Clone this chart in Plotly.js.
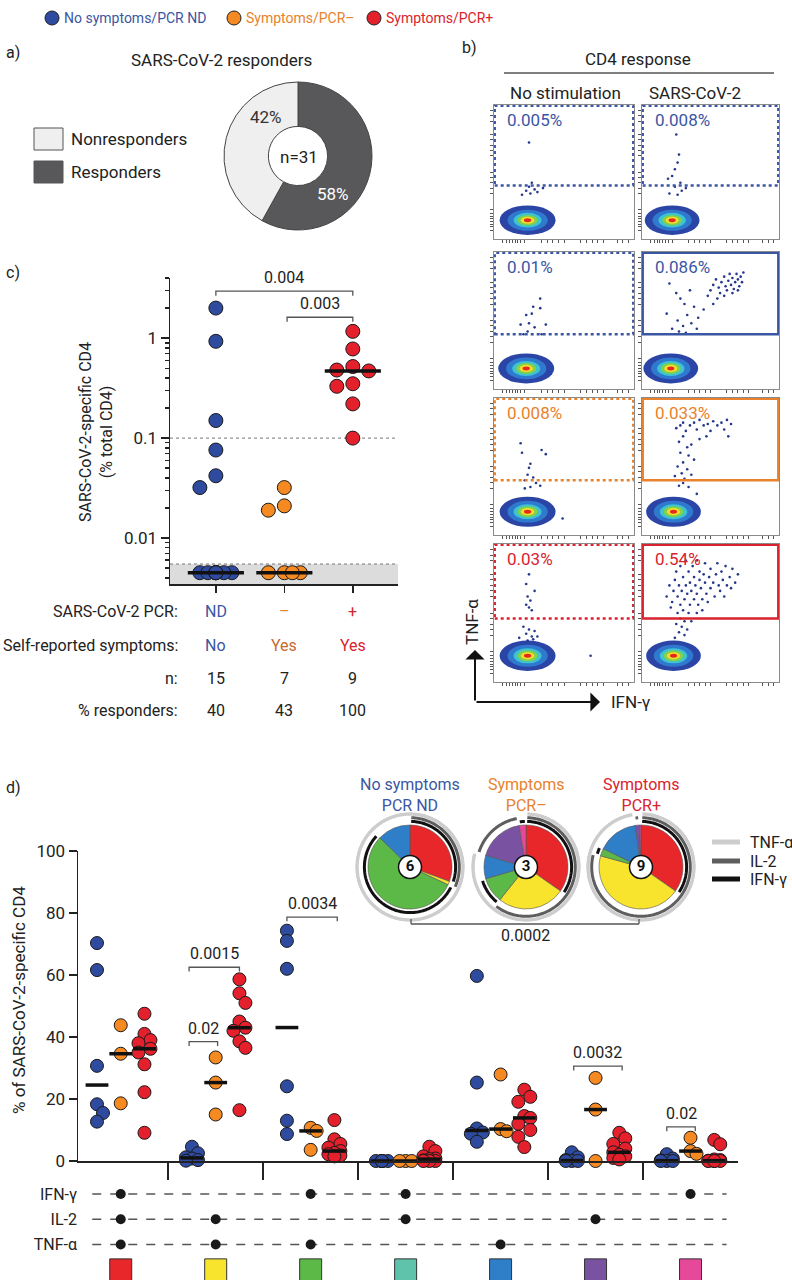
<!DOCTYPE html>
<html>
<head>
<meta charset="utf-8">
<script src="https://cdn.plot.ly/plotly-3.0.1.min.js"></script>
<style>
  body { margin: 0; background: #fff; }
  #chart { width: 792px; height: 1280px; }
</style>
</head>
<body>
<div id="chart"></div>
<script>
var W = 792, H = 1280;
var FONT = 'Roboto, sans-serif';
var config = { responsive: false, displayModeBar: false, staticPlot: true };

// ---- groups
var groupLabels = ['No symptoms/PCR ND', 'Symptoms/PCR–', 'Symptoms/PCR+'];
var groupColors = ['#2e4b9f', '#f58a22', '#e3202b'];
var groupText = ['#3b56a3', '#e8822c', '#d9232e'];

// ---- a) responders donut
var respLabels = ['Responders', 'Nonresponders'];
var respCounts = [18, 13];
var respColors = ['#58585a', '#efefef'];

// ---- b) flow plots (percent in TNF gate, events as [IFN, TNF] on 0-100 scale)
var flowFreq = [[0.005, 0.008], [0.01, 0.086], [0.008, 0.033], [0.03, 0.54]];
var gateLow = [40, 40, 40, 46];
var clusterX = [[24, 22], [23, 21], [24, 23], [24, 23]];
var clusterY = [[14, 14], [15, 15], [17, 17], [19, 19]];
var evR1C1 = [[25,72],[27,42],[25,39],[29,37],[23,36],[31,35],[20,33],[35,38],[26,34]];
var evR1C2 = [[25,78],[27,63],[26,57],[24,52],[22,47],[19,45],[28,42],[24,39],[29,36],[20,34],[32,38],[26,33]];
var evR2C1 = [[33,66],[28,60],[27,55],[23,54],[33,59],[25,48],[19,47],[37,47],[29,45],[24,42],[34,40],[21,40]];
var evR2C2 = [[48,68],[50,72],[52,76],[54,80],[56,74],[57,70],[58,78],[60,82],[61,75],[62,72],[63,79],[64,84],
              [65,76],[66,81],[67,73],[68,78],[69,84],[70,80],[71,75],[72,82],[73,78],[74,85],[60,68],[55,66],
              [52,62],[66,70],[70,72],[20,77],[25,70],[28,66],[31,62],[35,72],[38,60],[33,54],[26,50],[30,46],
              [36,48],[41,52],[22,44],[27,42],[32,41],[40,44],[45,58],[18,55]];
var evR3C1 = [[19,67],[20,60],[34,62],[37,59],[26,52],[25,49],[24,44],[28,42],[22,40],[30,38],[26,35],[33,36],[22,34],[49,12]];
var evR3C2 = [[25,78],[28,80],[30,82],[32,76],[35,80],[38,82],[40,77],[42,84],[45,80],[48,81],[50,76],[52,83],
              [55,80],[58,82],[60,77],[62,84],[65,81],[63,72],[47,72],[42,70],[30,72],[27,68],[33,64],[36,66],
              [28,60],[34,58],[38,55],[30,53],[26,50],[33,48],[29,45],[24,43],[36,44],[31,41],[30,38],[27,36],
              [34,35],[40,30]];
var evR4C1 = [[25,78],[23,71],[29,66],[24,62],[26,59],[23,56],[25,54],[27,52],[21,40],[25,38],[29,37],[23,35],
              [27,33],[31,33],[18,32],[28,31],[24,30],[69,19]];
var evR4C2 = [[18,62],[20,70],[22,58],[23,66],[24,74],[25,80],[26,62],[27,70],[28,56],[28,84],[29,66],[30,76],
              [31,60],[32,70],[32,88],[33,64],[34,80],[35,56],[35,72],[36,66],[37,84],[38,60],[38,76],[39,70],
              [40,64],[40,88],[41,56],[42,74],[42,80],[43,68],[44,60],[45,78],[46,72],[46,86],[47,64],[48,58],
              [49,76],[50,82],[50,68],[52,72],[53,62],[54,78],[55,86],[56,70],[57,66],[58,80],[59,74],[60,62],
              [61,84],[62,70],[64,76],[65,68],[66,82],[68,72],[70,78],[30,52],[34,50],[26,50],[28,46],[31,44],
              [25,42],[29,40],[33,38],[27,36],[31,34],[24,32],[36,44],[40,50],[44,52],[21,54]];
var flowEvents = [[evR1C1, evR1C2], [evR2C1, evR2C2], [evR3C1, evR3C2], [evR4C1, evR4C2]];

// ---- c) SARS-CoV-2-specific CD4 (% total CD4)
var pcrND = [2.0, 0.93, 0.15, 0.076, 0.042, 0.032, 0.0045, 0.0045, 0.0045, 0.0045, 0.0045, 0.0045, 0.0045, 0.0045, 0.0045];
var pcrNeg = [0.032, 0.021, 0.019, 0.0045, 0.0045, 0.0045, 0.0045];
var pcrPos = [1.17, 0.78, 0.52, 0.48, 0.47, 0.35, 0.33, 0.22, 0.10];
var positivityCut = 0.1;
var detectionLimit = 0.0055;
var pcrRow = ['ND', '–', '+'];
var symptomRow = ['No', 'Yes', 'Yes'];
var nRow = [15, 7, 9];
var responderRow = [40, 43, 100];
var symptomColors = ['#3b56a3', '#c9692f', '#d9232e'];

// ---- d) cytokine combinations (% of SARS-CoV-2-specific CD4)
var cytokines = ['IFN-γ', 'IL-2', 'TNF-α'];
var hasIFN = [1, 0, 1, 1, 0, 0, 1];
var hasIL2 = [1, 1, 0, 1, 0, 1, 0];
var hasTNF = [1, 1, 1, 0, 1, 0, 0];
var comboColors = ['#e8272a', '#f8e42c', '#5db947', '#5ec3aa', '#2f7ec8', '#7a52a2', '#e6489a'];
var dND = [[70.3, 61.6, 30.7, 18.3, 15.5, 12.7], [4.6, 2.5, 1.2, 0.8, 0.3, 0.1], [74.3, 71, 62, 24.1, 13, 8.7],
           [0, 0, 0, 0, 0, 0], [59.7, 25.3, 10.5, 9.2, 8.8, 6.2], [2.8, 1.2, 0.3, 0, 0, 0], [2.2, 0.8, 0.2, 0, 0, 0]];
var dNeg = [[43.8, 34.6, 18.6], [33.4, 25.3, 15], [10.7, 9.7, 3.6], [0, 0, 0], [27.9, 10.3, 9.6], [26.8, 16.6, 0], [7.5, 3.2, 2.3]];
var dPos = [[47.5, 41, 39, 38, 36.2, 35, 31.2, 22.2, 9.1], [58.6, 54.1, 51, 45, 43, 42, 38.6, 36.5, 16.4],
            [13.2, 7, 5.5, 4.3, 3.2, 2.6, 2.2, 1.8, 1.5], [4.6, 3.2, 1.5, 0.8, 0.6, 0.2, 0, 0, 0],
            [23, 20.7, 19.1, 14.5, 13.9, 12, 10, 7.8, 4.5], [9.1, 7.3, 5.5, 4, 2.8, 2, 1.5, 1, 0.5],
            [6.8, 5.4, 0.5, 0.3, 0.1, 0, 0, 0, 0]];
// pie fractions (red, yellow, green, teal, blue, purple, pink)
var pieND = [30.6, 1.4, 55.3, 0, 12.8, 0, 0];
var pieNeg = [34.7, 26, 9.8, 0, 9, 17.9, 2.6];
var piePos = [34.7, 44.6, 2.9, 0, 15.6, 1.7, 0.5];
var pieN = [6, 3, 9];
var pieHeads = ['No symptoms<br>PCR ND', 'Symptoms<br>PCR–', 'Symptoms<br>PCR+'];

// ---------- helpers
function domX(a, b) { return [a / W, b / W]; }
function domY(top, bottom) { return [1 - bottom / H, 1 - top / H]; }
function note(x, y, text, o) {
    o = o || {};
    return {
        xref: 'paper', yref: 'paper', x: x / W, y: 1 - y / H, text: text, showarrow: false,
        xanchor: o.xanchor || 'center', yanchor: o.yanchor || 'middle', textangle: o.angle || 0,
        font: { family: FONT, size: o.size || 16, color: o.color || '#222' }
    };
}
function pxLine(x0, y0, x1, y1, color, width, dash) {
    return { type: 'line', xref: 'paper', yref: 'paper', x0: x0 / W, x1: x1 / W, y0: 1 - y0 / H, y1: 1 - y1 / H,
        line: { color: color, width: width, dash: dash || 'solid' } };
}
function pxCircle(cx, cy, r, fill) {
    return { type: 'circle', xref: 'paper', yref: 'paper', x0: (cx - r) / W, x1: (cx + r) / W,
        y0: 1 - (cy + r) / H, y1: 1 - (cy - r) / H, fillcolor: fill, line: { color: '#222', width: 1 } };
}
function median(a) {
    var s = a.slice().sort(function (p, q) { return p - q; });
    var n = s.length;
    return n % 2 ? s[(n - 1) / 2] : (s[n / 2 - 1] + s[n / 2]) / 2;
}
// simple beeswarm: returns x offsets (data units) for overlapping points
function swarm(vals, toPx, unitPx, cands, minD) {
    var placed = [], off = new Array(vals.length);
    var order = vals.map(function (v, i) { return i; }).sort(function (a, b) { return vals[b] - vals[a]; });
    order.forEach(function (i) {
        var y = toPx(vals[i]), best = cands[0], bestD = -1;
        for (var k = 0; k < cands.length; k++) {
            var c = cands[k], dmin = Infinity;
            placed.forEach(function (p) { var d = Math.hypot(p.x - c, p.y - y); if (d < dmin) dmin = d; });
            if (dmin >= minD) { best = c; break; }
            if (dmin > bestD) { bestD = dmin; best = c; }
        }
        placed.push({ x: best, y: y });
        off[i] = best / unitPx;
    });
    return off;
}

var traces = [], medianTraces = [], shapes = [], annotations = [];
var layout = {
    width: W, height: H, margin: { l: 0, r: 0, t: 0, b: 0 },
    paper_bgcolor: '#fff', plot_bgcolor: 'rgba(0,0,0,0)',
    font: { family: FONT, size: 16, color: '#222' }, showlegend: false
};

// ---------- top legend
var legX = [52, 234, 374];
groupLabels.forEach(function (g, i) {
    shapes.push(pxCircle(legX[i], 18, 7, groupColors[i]));
    annotations.push(note(legX[i] + 10, 18, g, { xanchor: 'left', color: groupText[i], size: 14 }));
});

// ---------- a) donut
annotations.push(note(4, 53, 'a)', { xanchor: 'left' }));
annotations.push(note(222, 60, 'SARS-CoV-2 responders', { size: 17 }));
traces.push({
    type: 'pie', values: respCounts, labels: respLabels, hole: 0.4, sort: false, direction: 'clockwise',
    rotation: 0, textinfo: 'none', marker: { colors: respColors, line: { color: '#444', width: 1 } },
    domain: { x: domX(223, 373), y: domY(82, 230) }, hoverinfo: 'skip'
});
var respTotal = respCounts[0] + respCounts[1];
annotations.push(note(333, 194, Math.round(100 * respCounts[0] / respTotal) + '%', { color: '#fff', size: 17 }));
annotations.push(note(266, 117, Math.round(100 * respCounts[1] / respTotal) + '%', { color: '#333', size: 17 }));
annotations.push(note(299, 157, 'n=' + respTotal, { size: 17 }));
[[respLabels[1], 139, respColors[1]], [respLabels[0], 172, respColors[0]]].forEach(function (it) {
    shapes.push({ type: 'rect', xref: 'paper', yref: 'paper', x0: 34 / W, x1: 63 / W, y0: 1 - (it[1] + 11) / H,
        y1: 1 - (it[1] - 11) / H, fillcolor: it[2], line: { color: '#555', width: 1 } });
    annotations.push(note(69, it[1], it[0], { xanchor: 'left', size: 17 }));
});

// ---------- b) flow plots
annotations.push(note(460, 47, 'b)', { xanchor: 'left' }));
annotations.push(note(638, 59, 'CD4 response', { size: 17 }));
shapes.push(pxLine(504, 73, 774, 73, '#555', 1.5));
annotations.push(note(565, 93, 'No stimulation', { size: 17 }));
annotations.push(note(695, 93, 'SARS-CoV-2', { size: 17 }));
var rowsPx = [[105, 239], [252, 389], [398, 535], [544, 682]];
var colsPx = [[494, 634], [642, 779]];
var gateColors = ['#3b56a3', '#3b56a3', '#e8822c', '#d9232e'];
var clusterScale = [1, 0.72, 0.5, 0.36, 0.24, 0.13];
var clusterColors = ['#2b45a6', '#2f79cf', '#3cc4d0', '#86cf4a', '#f1df2a', '#e8281f'];
var flowTicks = [6, 9, 11, 13, 15, 17, 19, 22, 34, 38, 42, 46, 50, 62, 66, 70, 74, 78, 88, 92, 96];
rowsPx.forEach(function (rp, r) {
    colsPx.forEach(function (cp, c) {
        var n = 4 + r * 2 + c, xa = 'x' + n, ya = 'y' + n;
        var axBase = { range: [0, 100], showgrid: false, zeroline: false, showticklabels: false, showline: true,
            mirror: true, linecolor: '#8a8a8a', linewidth: 1, ticks: 'outside', ticklen: 3, tickcolor: '#555',
            tickvals: flowTicks, fixedrange: true };
        layout['xaxis' + n] = Object.assign({}, axBase, { domain: domX(cp[0], cp[1]), anchor: ya });
        layout['yaxis' + n] = Object.assign({}, axBase, { domain: domY(rp[0], rp[1]), anchor: xa });
        var cx = clusterX[r][c], cy = clusterY[r][c];
        clusterScale.forEach(function (s, k) {
            shapes.push({ type: 'circle', xref: xa, yref: ya, x0: cx - 20 * s, x1: cx + 20 * s,
                y0: cy - 11 * s, y1: cy + 11 * s, fillcolor: clusterColors[k], line: { width: 0 }, layer: 'below' });
        });
        var evs = flowEvents[r][c];
        traces.push({ type: 'scatter', mode: 'markers', xaxis: xa, yaxis: ya,
            x: evs.map(function (p) { return p[0]; }), y: evs.map(function (p) { return p[1]; }),
            marker: { size: 2.6, color: '#25388c' }, hoverinfo: 'skip' });
        var dashed = (c === 0 || r === 0);
        shapes.push({ type: 'rect', xref: xa, yref: ya, x0: 0.5, x1: 99.5, y0: gateLow[r], y1: 99.4,
            line: { color: gateColors[r], width: 2.5, dash: dashed ? 'dot' : 'solid' } });
        annotations.push({ xref: xa, yref: ya, x: 8, y: 89, text: flowFreq[r][c] + '%', showarrow: false,
            xanchor: 'left', yanchor: 'middle', font: { family: FONT, size: 17, color: gateColors[r] } });
    });
});
// TNF / IFN axis arrows
annotations.push({ xref: 'paper', yref: 'paper', x: 475 / W, y: 1 - 650 / H, ax: 0, ay: 52, text: '',
    showarrow: true, arrowhead: 1, arrowsize: 1.6, arrowwidth: 2, arrowcolor: '#111' });
annotations.push({ xref: 'paper', yref: 'paper', x: 600 / W, y: 1 - 702 / H, ax: -125, ay: 0, text: '',
    showarrow: true, arrowhead: 1, arrowsize: 1.6, arrowwidth: 2, arrowcolor: '#111' });
annotations.push(note(472, 622, 'TNF-α', { angle: -90, size: 17 }));
annotations.push(note(609, 702, 'IFN-γ', { xanchor: 'left', size: 17 }));

// ---------- c) log dot plot
annotations.push(note(4, 272, 'c)', { xanchor: 'left' }));
var cBottom = 0.00347, cTop = 4.0, cLeft = -0.67, cRight = 2.66;
layout.xaxis = { domain: domX(170, 398), anchor: 'y', range: [cLeft, cRight], tickvals: [0, 1, 2],
    showticklabels: false, ticks: 'outside', ticklen: 7, tickwidth: 1.5, tickcolor: '#222', showline: true,
    linecolor: '#222', linewidth: 1.5, showgrid: false, zeroline: false };
layout.yaxis = { domain: domY(278, 584), anchor: 'x', type: 'log',
    range: [Math.log10(cBottom), Math.log10(cTop)], tickvals: [0.01, 0.1, 1], ticktext: ['0.01', '0.1', '1'],
    ticks: 'outside', ticklen: 8, tickwidth: 1.5, tickcolor: '#222', showline: true, linecolor: '#222',
    linewidth: 1.5, showgrid: false, zeroline: false, tickfont: { size: 17 },
    minor: { tickvals: [0.004, 0.005, 0.006, 0.007, 0.008, 0.009, 0.02, 0.03, 0.04, 0.05, 0.06, 0.07, 0.08, 0.09,
        0.2, 0.3, 0.4, 0.5, 0.6, 0.7, 0.8, 0.9, 2, 3, 4], ticklen: 4, tickcolor: '#222', ticks: 'outside' } };
// below-detection band and threshold lines
traces.push({ type: 'scatter', mode: 'lines', x: [cLeft, cRight, cRight, cLeft, cLeft],
    y: [cBottom, cBottom, detectionLimit, detectionLimit, cBottom], fill: 'toself', fillcolor: '#dcdcdc',
    line: { width: 0 }, hoverinfo: 'skip' });
[detectionLimit, positivityCut].forEach(function (v) {
    traces.push({ type: 'scatter', mode: 'lines', x: [cLeft, cRight], y: [v, v],
        line: { color: '#777', width: 1, dash: 'dot' }, hoverinfo: 'skip' });
});
[pcrND, pcrNeg, pcrPos].forEach(function (vals, g) {
    var off = swarm(vals, function (v) { return Math.log10(v) * 100; }, 68.5, [0, -16, 16, 8, -8], 14);
    traces.push({ type: 'scatter', mode: 'markers', x: vals.map(function (v, i) { return g + off[i]; }), y: vals,
        marker: { size: 14, color: groupColors[g], line: { color: '#1a1a1a', width: 1 } },
        cliponaxis: false, hoverinfo: 'skip' });
    var m = median(vals);
    medianTraces.push({ type: 'scatter', mode: 'lines', x: [g - 0.41, g + 0.41], y: [m, m],
        line: { color: '#111', width: 3.5 }, hoverinfo: 'skip', cliponaxis: false });
});
var cBrackets = [{ a: 0, b: 2, y: 2.95, p: '0.004' }, { a: 1.04, b: 2, y: 1.62, p: '0.003' }];
cBrackets.forEach(function (br) {
    var lo = br.y / Math.pow(10, 0.045);
    traces.push({ type: 'scatter', mode: 'lines', x: [br.a, br.a, br.b, br.b], y: [lo, br.y, br.y, lo],
        line: { color: '#555', width: 1.3 }, hoverinfo: 'skip', cliponaxis: false });
    annotations.push({ xref: 'x', yref: 'y', x: (br.a + br.b) / 2, y: Math.log10(br.y), yshift: 2, text: br.p,
        showarrow: false, yanchor: 'bottom', font: { family: FONT, size: 16, color: '#222' } });
});
annotations.push(note(96, 432, 'SARS-CoV-2-specific CD4<br>(% total CD4)', { angle: -90, size: 16 }));
// table under c
var tableRows = [['SARS-CoV-2 PCR:', pcrRow, groupText, 611], ['Self-reported symptoms:', symptomRow, symptomColors, 645],
    ['n:', nRow, ['#222', '#222', '#222'], 678], ['% responders:', responderRow, ['#222', '#222', '#222'], 710]];
tableRows.forEach(function (row) {
    annotations.push(note(180, row[3], row[0], { xanchor: 'right', size: 16 }));
    row[1].forEach(function (v, g) {
        annotations.push({ xref: 'x', yref: 'paper', x: g, y: 1 - row[3] / H, text: String(v), showarrow: false,
            xanchor: 'center', yanchor: 'middle', font: { family: FONT, size: 16, color: row[2][g] } });
    });
});

// ---------- d) cytokine combinations
annotations.push(note(4, 787, 'd)', { xanchor: 'left' }));
layout.xaxis2 = { domain: domX(78, 738), anchor: 'y2', range: [-0.45, 6.5], tickvals: [0.5, 1.5, 2.5, 3.5, 4.5, 5.5],
    showticklabels: false, ticks: 'outside', ticklen: 17, tickwidth: 1.5, tickcolor: '#222', showline: true,
    linecolor: '#222', linewidth: 1.5, showgrid: false, zeroline: false };
layout.yaxis2 = { domain: domY(851, 1161), anchor: 'x2', range: [0, 100], tickvals: [0, 20, 40, 60, 80, 100],
    ticks: 'outside', ticklen: 8, tickwidth: 1.5, tickcolor: '#222', showline: true, linecolor: '#222',
    linewidth: 1.5, showgrid: false, zeroline: false, tickfont: { size: 17 } };
annotations.push(note(19, 1000, '% of SARS-CoV-2-specific CD4', { angle: -90, size: 17 }));
var subOffset = [-0.25, 0, 0.25];
[dND, dNeg, dPos].forEach(function (set, g) {
    var xs = [], ys = [], mx = [], my = [];
    set.forEach(function (vals, k) {
        var off = swarm(vals, function (v) { return v * 3.1; }, 94.96, [0, 6, -6], 10);
        vals.forEach(function (v, i) { xs.push(k + subOffset[g] + off[i]); ys.push(v); });
        var m = median(vals), cx = k + subOffset[g];
        mx.push(cx - 0.12, cx + 0.12, null); my.push(m, m, null);
    });
    traces.push({ type: 'scatter', mode: 'markers', x: xs, y: ys, xaxis: 'x2', yaxis: 'y2',
        marker: { size: 13, color: groupColors[g], line: { color: '#1a1a1a', width: 1 } },
        cliponaxis: false, hoverinfo: 'skip' });
    medianTraces.push({ type: 'scatter', mode: 'lines', x: mx, y: my, xaxis: 'x2', yaxis: 'y2',
        line: { color: '#111', width: 3.5 }, cliponaxis: false, hoverinfo: 'skip' });
});
var dBrackets = [{ a: 0.72, b: 1.25, y: 62.5, p: '0.0015' }, { a: 0.72, b: 1.02, y: 38.5, p: '0.02' },
    { a: 1.75, b: 2.28, y: 78.7, p: '0.0034' }, { a: 4.77, b: 5.28, y: 30.6, p: '0.0032' },
    { a: 5.75, b: 6.05, y: 11, p: '0.02' }];
dBrackets.forEach(function (br) {
    traces.push({ type: 'scatter', mode: 'lines', x: [br.a, br.a, br.b, br.b], y: [br.y - 1.4, br.y, br.y, br.y - 1.4],
        xaxis: 'x2', yaxis: 'y2', line: { color: '#555', width: 1.3 }, hoverinfo: 'skip', cliponaxis: false });
    annotations.push({ xref: 'x2', yref: 'y2', x: (br.a + br.b) / 2, y: br.y, yshift: 2, text: br.p,
        showarrow: false, yanchor: 'bottom', font: { family: FONT, size: 16, color: '#222' } });
});

// combination table
layout.xaxis3 = { domain: domX(78, 738), anchor: 'y3', range: [-0.45, 6.5], visible: false };
layout.yaxis3 = { domain: domY(1180, 1280), anchor: 'x3', range: [-0.4, 3.55], tickvals: [3, 2, 1],
    ticktext: cytokines, ticks: '', showline: false, showgrid: false, zeroline: false, tickfont: { size: 16 } };
[hasIFN, hasIL2, hasTNF].forEach(function (has, row) {
    var yv = 3 - row, dx = [], dy = [];
    traces.push({ type: 'scatter', mode: 'lines', x: [-0.3, 6.38], y: [yv, yv], xaxis: 'x3', yaxis: 'y3',
        line: { color: '#555', width: 1.5, dash: 'dash' }, hoverinfo: 'skip' });
    has.forEach(function (h, k) { if (h) { dx.push(k); dy.push(yv); } });
    traces.push({ type: 'scatter', mode: 'markers', x: dx, y: dy, xaxis: 'x3', yaxis: 'y3',
        marker: { size: 10, color: '#1a1a1a' }, hoverinfo: 'skip' });
});
traces.push({ type: 'scatter', mode: 'markers', x: comboColors.map(function (c, k) { return k; }),
    y: comboColors.map(function () { return 0; }), xaxis: 'x3', yaxis: 'y3', cliponaxis: false,
    marker: { symbol: 'square', size: 22, color: comboColors, line: { color: '#333', width: 1 } }, hoverinfo: 'skip' });

// SPICE-like pies with cytokine arcs
var pieSets = [pieND, pieNeg, piePos];
var pieCx = [410, 526, 641], pieCy = 867;
var ringDefs = [{ has: hasTNF, r: 53, color: '#cdcdcd', w: 3.5 }, { has: hasIL2, r: 49.3, color: '#5e5e5e', w: 3 },
    { has: hasIFN, r: 45.6, color: '#111', w: 3 }];
function arcSegments(fracs, has) {
    var total = fracs.reduce(function (s, v) { return s + v; }, 0), segs = [], start = 0;
    fracs.forEach(function (f, i) {
        var a = start / total * 360, b = (start + f) / total * 360;
        if (has[i] && f > 0) {
            var last = segs[segs.length - 1];
            if (last && Math.abs(last[1] - a) < 1e-6) last[1] = b; else segs.push([a, b]);
        }
        start += f;
    });
    return segs;
}
pieSets.forEach(function (fr, p) {
    var sub = p === 0 ? 'polar' : 'polar' + (p + 1);
    layout[sub] = { domain: { x: domX(pieCx[p] - 55, pieCx[p] + 55), y: domY(pieCy - 55, pieCy + 55) },
        bgcolor: 'rgba(0,0,0,0)', radialaxis: { visible: false, range: [0, 55] },
        angularaxis: { visible: false, rotation: 90, direction: 'clockwise' } };
    var total = fr.reduce(function (s, v) { return s + v; }, 0), start = 0, th = [], wd = [], cols = [];
    fr.forEach(function (f, i) {
        if (f > 0) { th.push((start + f / 2) / total * 360); wd.push(f / total * 360); cols.push(comboColors[i]); }
        start += f;
    });
    traces.push({ type: 'barpolar', subplot: sub, r: th.map(function () { return 42; }), theta: th, width: wd,
        marker: { color: cols, line: { color: '#555', width: 0.6 } }, hoverinfo: 'skip' });
    ringDefs.forEach(function (rd) {
        arcSegments(fr, rd.has).forEach(function (sg) {
            var full = sg[1] - sg[0] > 359.9, a = full ? 0 : sg[0] + 1.5, b = full ? 360 : sg[1] - 1.5, tt = [];
            for (var t = a; t < b; t += 1) tt.push(t);
            tt.push(b);
            traces.push({ type: 'scatterpolar', subplot: sub, mode: 'lines', theta: tt,
                r: tt.map(function () { return rd.r; }), line: { color: rd.color, width: rd.w }, hoverinfo: 'skip' });
        });
    });
    traces.push({ type: 'scatterpolar', subplot: sub, mode: 'markers+text', r: [0], theta: [0],
        text: ['<b>' + pieN[p] + '</b>'], textposition: 'middle center', textfont: { size: 15, color: '#111' },
        marker: { size: 23, color: '#fff', line: { color: '#111', width: 1.5 } }, hoverinfo: 'skip' });
    annotations.push(note(pieCx[p], 795, pieHeads[p], { size: 16, color: groupText[p] }));
});
shapes.push(pxLine(411, 924, 639, 924, '#555', 1.3));
shapes.push(pxLine(411, 919, 411, 924, '#555', 1.3));
shapes.push(pxLine(639, 919, 639, 924, '#555', 1.3));
annotations.push(note(525, 935, '0.0002', { size: 16 }));
// ring legend
var ringLegend = [['TNF-α', '#cdcdcd', 842], ['IL-2', '#5e5e5e', 861], ['IFN-γ', '#111', 879]];
ringLegend.forEach(function (it) {
    shapes.push(pxLine(712, it[2], 740, it[2], it[1], 5));
    annotations.push(note(748, it[2], it[0], { xanchor: 'left', size: 16 }));
});

layout.shapes = shapes;
layout.annotations = annotations;
Plotly.newPlot('chart', traces.concat(medianTraces), layout, config);
</script>
</body>
</html>
